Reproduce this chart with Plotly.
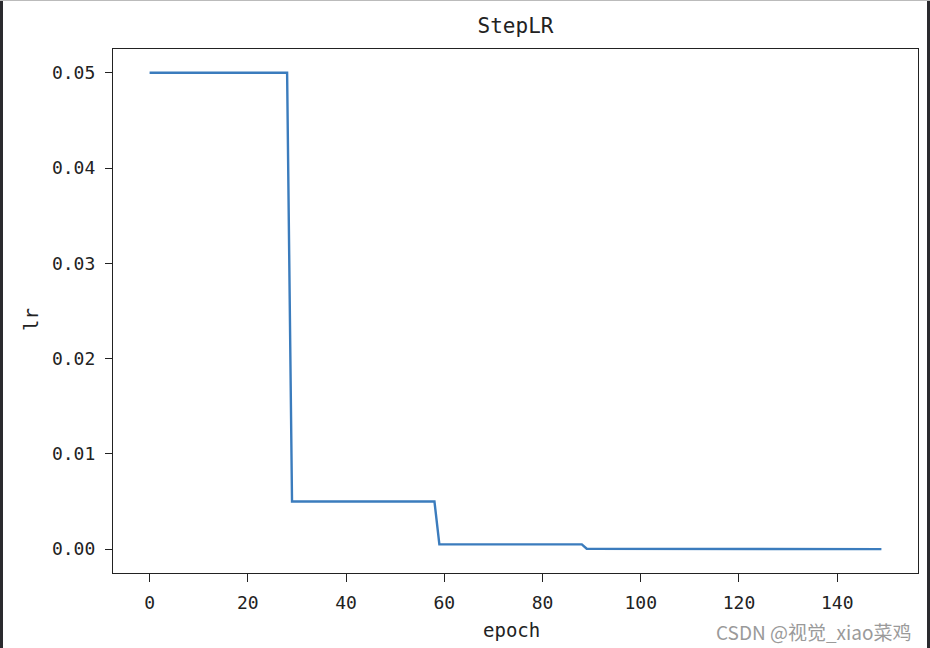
import plotly.graph_objects as go

epochs = list(range(150))
lr_values = [0.05] * 29 + [0.005] * 30 + [0.0005] * 30 + [0.00005] * 30 + [0.000005] * 31

x_ticks = [0, 20, 40, 60, 80, 100, 120, 140]
y_ticks = [0.0, 0.01, 0.02, 0.03, 0.04, 0.05]
y_tick_labels = ["0.00", "0.01", "0.02", "0.03", "0.04", "0.05"]

mono = "DejaVu Sans Mono, Liberation Mono, monospace"
W, H = 930, 648
L, R, T, B = 113, 12, 49, 75
PW, PH = W - L - R, H - T - B


def px_x(p):
    return (p - L) / PW


def px_y(p):
    return 1 - (p - T) / PH


fig = go.Figure()
fig.add_trace(go.Scatter(x=epochs, y=lr_values, mode="lines",
                         line=dict(color="#3b7cbd", width=2.4), showlegend=False))

fig.update_layout(
    width=W, height=H,
    margin=dict(l=L, r=R, t=T, b=B),
    paper_bgcolor="white", plot_bgcolor="white",
    title=dict(text="StepLR", xref="paper", x=0.5, xanchor="center",
               yref="container", y=1 - 26 / H, yanchor="middle",
               font=dict(family=mono, size=21, color="#222")),
    font=dict(family=mono, size=18, color="#222"),
)
fig.update_xaxes(range=[-7.45, 156.45], tickvals=x_ticks, ticks="outside", ticklen=8,
                 tickcolor="#222", tickwidth=1.3, showline=True, linecolor="#222", linewidth=1.3,
                 mirror=True, showgrid=False, zeroline=False, ticklabelstandoff=5)
fig.update_yaxes(range=[-0.0025, 0.0525], tickvals=y_ticks, ticktext=y_tick_labels, ticks="outside",
                 ticklen=7, tickcolor="#222", tickwidth=1.3, showline=True, linecolor="#222",
                 linewidth=1.3, mirror=True, showgrid=False, zeroline=False, ticklabelstandoff=6)

# axis titles
fig.add_annotation(text="epoch", xref="paper", yref="paper", x=px_x(511), y=px_y(630),
                   xanchor="center", yanchor="middle", showarrow=False,
                   font=dict(family=mono, size=19, color="#222"))
fig.add_annotation(text="lr", xref="paper", yref="paper", x=px_x(31), y=px_y(320),
                   xanchor="center", yanchor="middle", showarrow=False, textangle=-90,
                   font=dict(family=mono, size=19, color="#222"))

fig.add_annotation(text="CSDN @视觉_xiao菜鸡", xref="paper", yref="paper",
                   x=px_x(914), y=px_y(631), xanchor="right", yanchor="middle",
                   showarrow=False, font=dict(family="Noto Sans CJK SC, sans-serif", size=19, color="#9a9a9a"))

# image borders
fig.add_shape(type="rect", xref="paper", yref="paper",
              x0=px_x(0), x1=px_x(3), y0=px_y(H), y1=px_y(0),
              fillcolor="#2a2a2e", line=dict(width=0), layer="above")
fig.add_shape(type="rect", xref="paper", yref="paper",
              x0=px_x(927), x1=px_x(930), y0=px_y(H), y1=px_y(0),
              fillcolor="#2a2a2e", line=dict(width=0), layer="above")
fig.add_shape(type="line", xref="paper", yref="paper",
              x0=px_x(0), x1=px_x(930), y0=px_y(0.5), y1=px_y(0.5),
              line=dict(color="#bbb", width=1))

fig.write_html("out.html")
